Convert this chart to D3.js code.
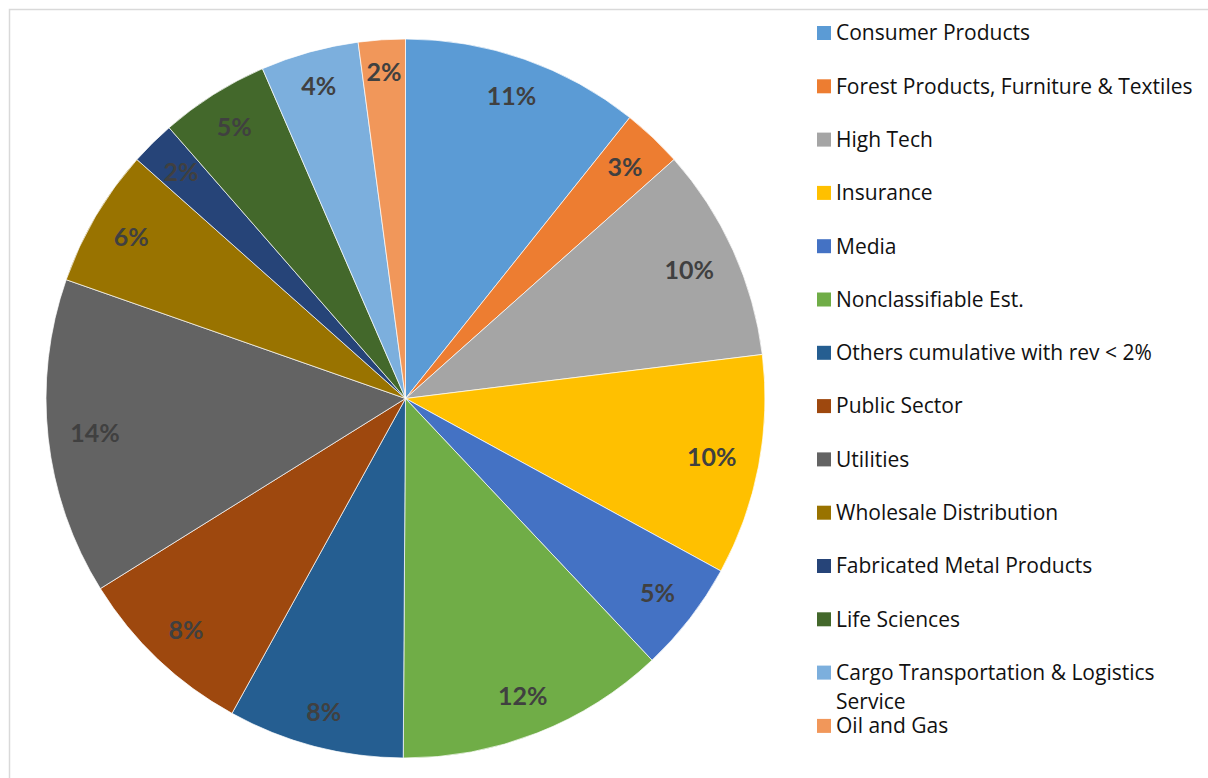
<!DOCTYPE html>
<html>
<head>
<meta charset="utf-8">
<script src="https://cdn.jsdelivr.net/npm/d3@7"></script>
<style>
  body { margin: 0; background: #fff; }
  svg { display: block; }
</style>
</head>
<body>
<div id="chart"></div>
<script>
// Chart data (shares, in %)
const categories = [
    'Consumer Products',
    'Forest Products, Furniture & Textiles',
    'High Tech',
    'Insurance',
    'Media',
    'Nonclassifiable Est.',
    'Others cumulative with rev < 2%',
    'Public Sector',
    'Utilities',
    'Wholesale Distribution',
    'Fabricated Metal Products',
    'Life Sciences',
    'Cargo Transportation & Logistics Service',
    'Oil and Gas'
];
const shares = [10.7, 2.7, 9.6, 9.9, 5.0, 12.1, 7.9, 8.1, 14.2, 6.2, 2.0, 4.9, 4.4, 2.1];
const colors = ['#5B9BD5', '#ED7D31', '#A5A5A5', '#FFC000', '#4472C4', '#70AD47', '#255E91',
    '#9E480E', '#636363', '#997300', '#264478', '#43682B', '#7CAFDD', '#F1975A'];

const data = categories.map((c, i) => ({ name: c, value: shares[i], color: colors[i] }));
const total = d3.sum(shares);

const svgWidth = 1208;
const svgHeight = 778;

const svg = d3.select('#chart')
    .append('svg')
    .attr('width', svgWidth)
    .attr('height', svgHeight);

// Chart area border
svg.append('rect')
    .attr('x', 9.5)
    .attr('y', 9.5)
    .attr('width', svgWidth + 10)
    .attr('height', svgHeight + 10)
    .attr('fill', 'none')
    .attr('stroke', '#d9d9d9')
    .attr('stroke-width', 1.5);

const cx = 405.5, cy = 398.5, radius = 359.5;

const pie = d3.pie().sort(null).value(d => d.value);
const arc = d3.arc().innerRadius(0).outerRadius(radius);

const g = svg.append('g').attr('transform', `translate(${cx},${cy})`);
const arcs = pie(data);

g.selectAll('path')
    .data(arcs)
    .enter()
    .append('path')
    .attr('d', arc)
    .attr('fill', d => d.data.color)
    .attr('stroke', '#ffffff')
    .attr('stroke-width', 0.7);

// Data labels, "inside end": the label box sits a fixed gap inside the rim
const fmt = d3.format('.0%');
const labelPad = 21.5, labelH = 19;
g.selectAll('text.lbl')
    .data(arcs)
    .enter()
    .append('text')
    .attr('class', 'lbl')
    .attr('text-anchor', 'middle')
    .attr('dy', '0.36em')
    .style('font-family', 'Lato, sans-serif')
    .style('font-weight', 'bold')
    .style('font-size', '25px')
    .style('fill', '#404040')
    .text(d => fmt(d.data.value / total))
    .attr('transform', function (d) {
        const a = (d.startAngle + d.endAngle) / 2;
        const ux = Math.sin(a), uy = -Math.cos(a);
        const w = this.getComputedTextLength();
        const ext = Math.abs(ux) * w / 2 + Math.abs(uy) * labelH / 2;
        const r = radius - labelPad - ext;
        return `translate(${ux * r},${uy * r})`;
    });

// Legend
const legendX = 817;
const legendY0 = 33;
const rowH = 53.3;
const legend = svg.append('g');

data.forEach((d, i) => {
    const y = legendY0 + i * rowH;
    legend.append('rect')
        .attr('x', legendX)
        .attr('y', y - 7)
        .attr('width', 14)
        .attr('height', 14)
        .attr('fill', d.color);
    const t = legend.append('text')
        .attr('x', legendX + 19)
        .attr('y', y)
        .attr('dy', '0.35em')
        .style('font-family', '"Open Sans", sans-serif')
        .style('font-size', '21px')
        .style('fill', '#111');
    if (d.name.startsWith('Cargo')) {
        t.append('tspan').attr('x', legendX + 19).text('Cargo Transportation & Logistics');
        t.append('tspan').attr('x', legendX + 19).attr('dy', 29).text('Service');
    } else {
        t.text(d.name);
    }
});
</script>
</body>
</html>
